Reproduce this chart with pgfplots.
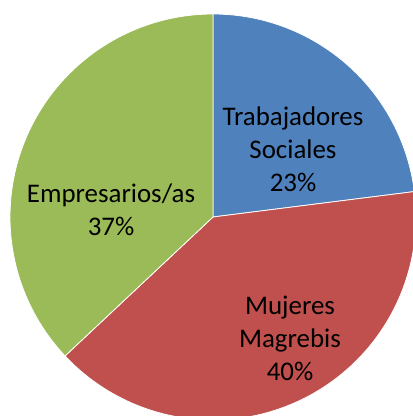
\documentclass[border=0pt]{standalone}
\usepackage{pgfplots}
\pgfplotsset{compat=1.18}
\usepackage{fontspec}
\setmainfont{Carlito}
\definecolor{cblue}{HTML}{4F81BD}
\definecolor{cred}{HTML}{C0504D}
\definecolor{cgreen}{HTML}{9BBB59}
\begin{document}
\begin{tikzpicture}
% shares (percent)
\def\vA{23}\def\vB{40}\def\vC{37}
\pgfmathsetmacro{\aA}{90}
\pgfmathsetmacro{\aB}{90-3.6*\vA}
\pgfmathsetmacro{\aC}{\aB-3.6*\vB}
\pgfmathsetmacro{\aD}{\aC-3.6*\vC}
\def\R{203}
\begin{axis}[
  scale only axis, width=413bp, height=416bp,
  xmin=-213, xmax=200, ymin=-199, ymax=217,
  axis line style={draw=none}, ticks=none, clip=true,
  every axis plot/.append style={draw=white, line width=0.8pt, line join=round},
]
\addplot[fill=cblue, domain=\aB:\aA, samples=90] ({\R*cos(x)},{\R*sin(x)}) -- (axis cs:0,0) -- cycle;
\addplot[fill=cred, domain=\aC:\aB, samples=120] ({\R*cos(x)},{\R*sin(x)}) -- (axis cs:0,0) -- cycle;
\addplot[fill=cgreen, domain=\aD:\aC, samples=120] ({\R*cos(x)},{\R*sin(x)}) -- (axis cs:0,0) -- cycle;
\node[align=center, font=\fontsize{27}{33}\selectfont, text=black] at (axis cs:80,68) {Trabajadores\\Sociales\\23\%};
\node[align=center, font=\fontsize{27}{33}\selectfont, text=black] at (axis cs:77,-121) {Mujeres\\Magrebis\\40\%};
\node[align=center, font=\fontsize{27}{33}\selectfont, text=black] at (axis cs:-102,7) {Empresarios/as\\37\%};
\end{axis}
\end{tikzpicture}
\end{document}
